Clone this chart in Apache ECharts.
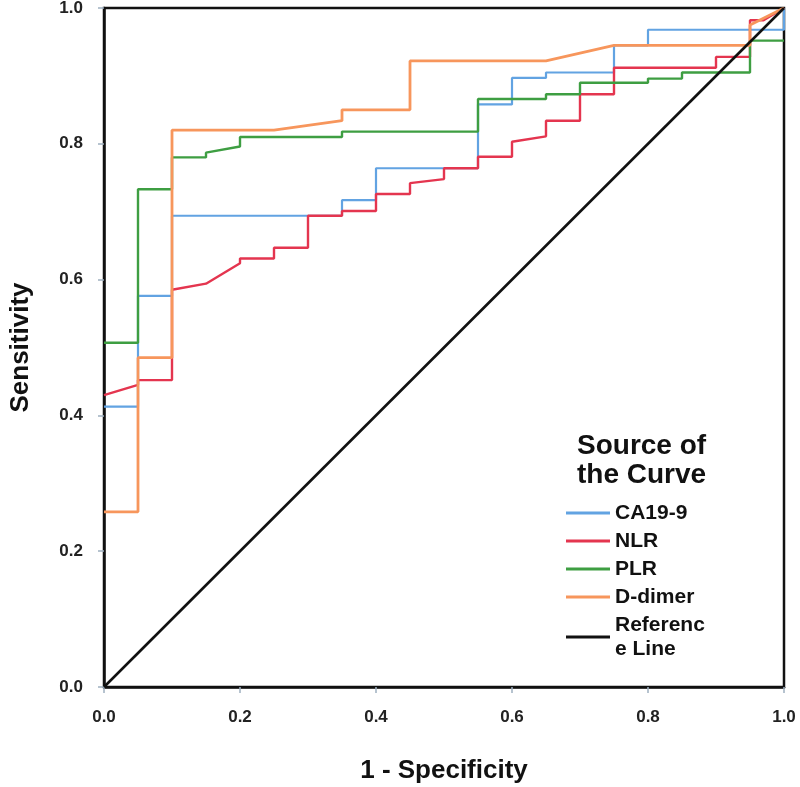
<!DOCTYPE html>
<html>
<head>
<meta charset="utf-8">
<script src="https://cdn.jsdelivr.net/npm/echarts@6/dist/echarts.min.js"></script>
<style>
html,body{margin:0;padding:0;background:#fff;}
#chart{width:800px;height:787px;}
</style>
</head>
<body>
<div id="chart"></div>
<script>
// ROC curve points [1 - Specificity, Sensitivity]
const seriesNames = ['CA19-9', 'NLR', 'PLR', 'D-dimer', 'Reference Line'];
const ca199 = [[0,0.413],[0.05,0.413],[0.05,0.576],[0.1,0.576],[0.1,0.694],[0.35,0.694],[0.35,0.717],[0.4,0.717],[0.4,0.764],[0.55,0.764],[0.55,0.858],[0.6,0.858],[0.6,0.897],[0.65,0.897],[0.65,0.905],[0.75,0.905],[0.75,0.945],[0.8,0.945],[0.8,0.968],[1,0.968],[1,1]];
const nlr = [[0,0.43],[0.05,0.445],[0.05,0.452],[0.1,0.452],[0.1,0.585],[0.15,0.594],[0.2,0.624],[0.2,0.631],[0.25,0.631],[0.25,0.647],[0.3,0.647],[0.3,0.694],[0.35,0.694],[0.35,0.701],[0.4,0.701],[0.4,0.726],[0.45,0.726],[0.45,0.742],[0.5,0.748],[0.5,0.764],[0.55,0.764],[0.55,0.781],[0.6,0.781],[0.6,0.803],[0.65,0.811],[0.65,0.834],[0.7,0.834],[0.7,0.873],[0.75,0.873],[0.75,0.912],[0.9,0.912],[0.9,0.928],[0.95,0.928],[0.95,0.982],[0.97,0.982],[1,1]];
const plr = [[0,0.507],[0.05,0.507],[0.05,0.733],[0.1,0.733],[0.1,0.78],[0.15,0.78],[0.15,0.787],[0.2,0.796],[0.2,0.81],[0.35,0.81],[0.35,0.818],[0.55,0.818],[0.55,0.866],[0.65,0.866],[0.65,0.873],[0.7,0.873],[0.7,0.89],[0.8,0.89],[0.8,0.896],[0.85,0.896],[0.85,0.905],[0.95,0.905],[0.95,0.952],[1,0.952]];
const ddimer = [[0,0.258],[0.05,0.258],[0.05,0.485],[0.1,0.485],[0.1,0.82],[0.25,0.82],[0.35,0.834],[0.35,0.85],[0.45,0.85],[0.45,0.922],[0.65,0.922],[0.75,0.945],[0.95,0.945],[0.95,0.975],[1,1]];
const referenceLine = [[0,0],[1,1]];
const tickLabels = ['0.0','0.2','0.4','0.6','0.8','1.0'];

const colors = ['#62a3e2', '#e4354f', '#3e9e42', '#f7965c', '#111111'];
const dataList = [ca199, nlr, plr, ddimer, referenceLine];
const widths = [2.2, 2.4, 2.4, 2.8, 2.6];

const chart = echarts.init(document.getElementById('chart'));
const font = 'Liberation Sans, Arial, sans-serif';
const tickFmt = v => tickLabels[Math.round(v / 0.2)];

chart.setOption({
  animation: false,
  backgroundColor: '#fff',
  title: {
    text: 'Source of\nthe Curve',
    left: 572, top: 427,
    textStyle: {fontFamily: font, fontSize: 28, fontWeight: 'bold', color: '#111', lineHeight: 29}
  },
  legend: {
    orient: 'vertical',
    left: 561, top: 496,
    icon: 'rect',
    itemWidth: 44, itemHeight: 3,
    itemGap: 4,
    data: seriesNames,
    formatter: n => n === 'Reference Line' ? 'Referenc\ne Line' : n,
    textStyle: {fontFamily: font, fontSize: 21, fontWeight: 'bold', color: '#111', lineHeight: 24}
  },
  grid: {left: 104, right: 16, top: 8, bottom: 100, show: true, borderColor: '#111', borderWidth: 2.5, containLabel: false, outerBoundsMode: 'none'},
  xAxis: {
    type: 'value', min: 0, max: 1, interval: 0.2,
    name: '1 - Specificity', nameLocation: 'middle', nameGap: 71,
    nameTextStyle: {fontFamily: font, fontSize: 26, fontWeight: 'bold', color: '#111'},
    axisLine: {show: true, lineStyle: {color: '#111', width: 2.5}},
    axisTick: {show: true, length: 6, lineStyle: {color: '#9fb0c0', width: 1.5}},
    axisLabel: {formatter: tickFmt, margin: 22, fontFamily: font, fontSize: 17, fontWeight: 'bold', color: '#222'},
    splitLine: {show: false}
  },
  yAxis: {
    type: 'value', min: 0, max: 1, interval: 0.2,
    name: 'Sensitivity', nameLocation: 'middle', nameGap: 70, nameRotate: 90,
    nameTextStyle: {fontFamily: font, fontSize: 26, fontWeight: 'bold', color: '#111'},
    axisLine: {show: true, lineStyle: {color: '#111', width: 2.5}},
    axisTick: {show: true, length: 6, lineStyle: {color: '#9fb0c0', width: 1.5}},
    axisLabel: {formatter: tickFmt, margin: 21, fontFamily: font, fontSize: 17, fontWeight: 'bold', color: '#222'},
    splitLine: {show: false}
  },
  series: seriesNames.map((name, i) => ({
    name: name,
    type: 'line',
    data: dataList[i],
    showSymbol: false,
    symbol: 'none',
    color: colors[i],
    lineStyle: {color: colors[i], width: widths[i]},
    itemStyle: {color: colors[i]},
    z: 2 + i
  }))
});
</script>
</body>
</html>
